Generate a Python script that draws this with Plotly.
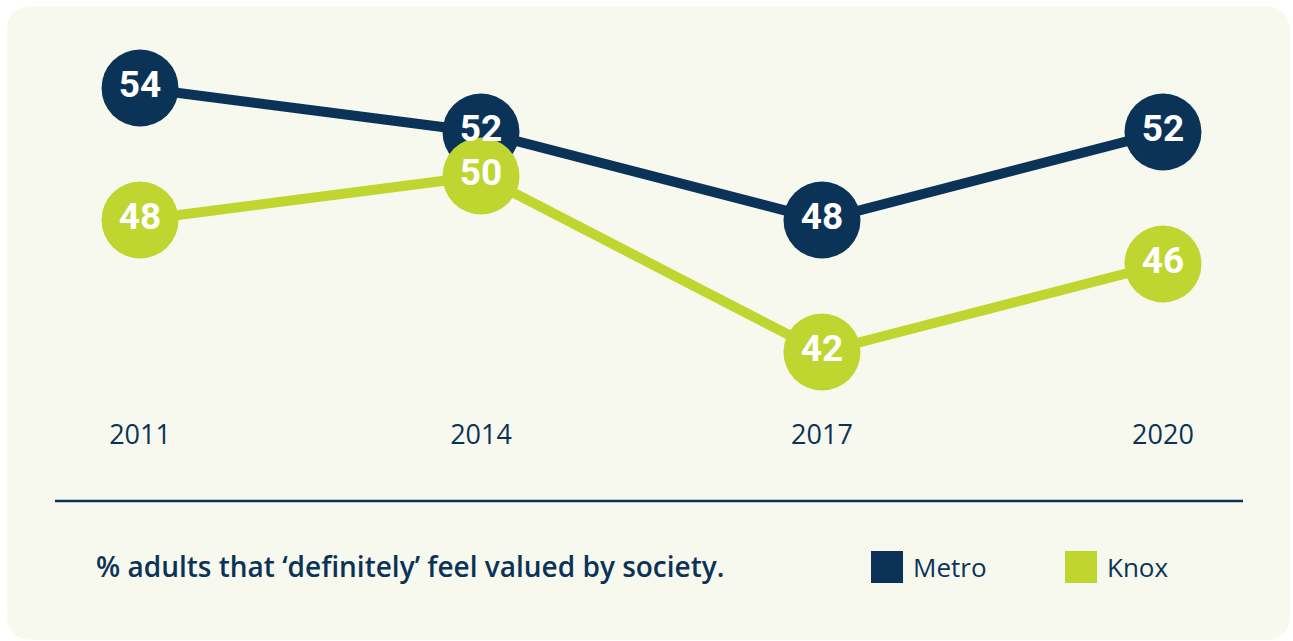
import plotly.graph_objects as go

years = [2011, 2014, 2017, 2020]
metro = [54, 52, 48, 52]
knox = [48, 50, 42, 46]
series_names = ["Metro", "Knox"]
caption = "% adults that ‘definitely’ feel valued by society."

NAVY = "#0b3358"
LIME = "#bed62f"
BG = "#f8f9ee"
FONT = "Open Sans"
NUMFONT = "Roboto"

W, H = 1293, 641
ML, MR, MT, MB = 0, 0, 20, 231
PH = H - MT - MB

def px(x):
    return (x - ML) / (W - ML - MR)

def py(y):
    return (H - MB - y) / PH

fig = go.Figure()
series = [(series_names[0], metro, NAVY), (series_names[1], knox, LIME)]
for name, vals, col in series:
    fig.add_trace(go.Scatter(
        x=years, y=vals, name=name, mode="lines+markers",
        line=dict(color=col, width=10),
        marker=dict(color=col, size=77, line=dict(width=0)),
        cliponaxis=False, showlegend=False, hoverinfo="skip",
    ))
for name, vals, col in series:
    fig.add_trace(go.Scatter(
        x=years, y=vals, name=name, mode="text",
        text=[str(v) for v in vals], textposition="middle center",
        textfont=dict(color="white", size=37, family=NUMFONT, weight=700),
        cliponaxis=False, showlegend=False, hoverinfo="skip",
    ))

# rounded background panel
x0, x1, y0, y1, r = 7, 1290, 6, 640, 26
path = (f"M {px(x0+r)},{py(y0)} L {px(x1-r)},{py(y0)} Q {px(x1)},{py(y0)} {px(x1)},{py(y0+r)} "
        f"L {px(x1)},{py(y1-r)} Q {px(x1)},{py(y1)} {px(x1-r)},{py(y1)} "
        f"L {px(x0+r)},{py(y1)} Q {px(x0)},{py(y1)} {px(x0)},{py(y1-r)} "
        f"L {px(x0)},{py(y0+r)} Q {px(x0)},{py(y0)} {px(x0+r)},{py(y0)} Z")
shapes = [dict(type="path", path=path, xref="paper", yref="paper",
               fillcolor=BG, line=dict(width=0), layer="below")]
# divider line
shapes.append(dict(type="line", xref="paper", yref="paper", x0=px(55), x1=px(1243),
                   y0=py(501), y1=py(501), line=dict(color=NAVY, width=2.5)))
annotations = [dict(text=caption, xref="paper", yref="paper", x=px(94), y=py(566),
                    xanchor="left", yanchor="middle", showarrow=False,
                    font=dict(family=FONT, size=28, color=NAVY, weight=600))]
# legend
for (name, col, sx) in [(series_names[0], NAVY, 871), (series_names[1], LIME, 1065)]:
    shapes.append(dict(type="rect", xref="paper", yref="paper", x0=px(sx), x1=px(sx+32),
                       y0=py(551), y1=py(583), fillcolor=col, line=dict(width=0)))
    annotations.append(dict(text=name, xref="paper", yref="paper", x=px(sx+40), y=py(567),
                            xanchor="left", yanchor="middle", showarrow=False,
                            font=dict(family=FONT, size=26, color=NAVY)))

fig.update_layout(
    width=W, height=H, margin=dict(l=ML, r=MR, t=MT, b=MB),
    paper_bgcolor="white", plot_bgcolor="rgba(0,0,0,0)",
    shapes=shapes, annotations=annotations,
    xaxis=dict(range=[2009.768, 2021.144], tickvals=years, ticktext=[str(y) for y in years],
               showgrid=False, zeroline=False, showline=False, ticks="",
               tickfont=dict(family=FONT, size=27, color=NAVY), ticklabelstandoff=6),
    yaxis=dict(range=[39.364, 57.09], visible=False, showgrid=False, zeroline=False),
    font=dict(family=FONT),
)
fig.write_html("out.html", config={"displayModeBar": False},
               post_script="document.body.style.margin='0';document.body.style.overflow='hidden';")
